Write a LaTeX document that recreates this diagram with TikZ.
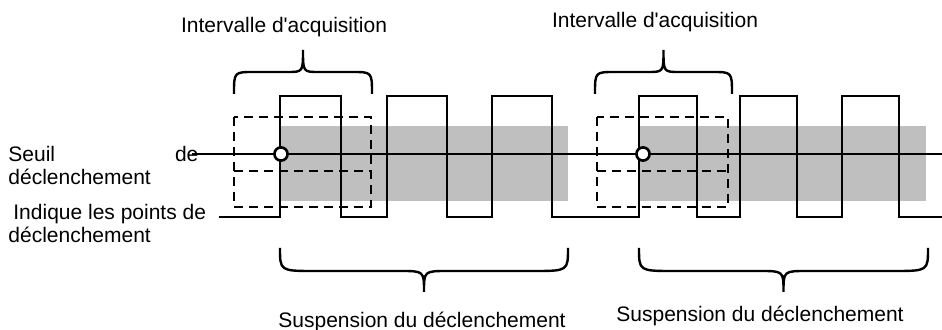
\documentclass[tikz,border=0pt]{standalone}
\usepackage{fontspec}
\setmainfont{Liberation Sans}
\tikzstyle{signal}=[line width=1.3pt]
\tikzstyle{fenetre}=[line width=1.3pt,dash pattern=on 4.5pt off 3pt]
\tikzstyle{zone}=[fill=black!25]
\tikzstyle{accolade}=[line width=1.2pt]
\tikzstyle{trigpoint}=[circle,draw,line width=1.3pt,fill=white,minimum size=6.6pt,inner sep=0pt]
\tikzstyle{texte}=[font={\fontsize{10.5}{11.5}\selectfont},inner sep=0pt]

\begin{document}
\begin{tikzpicture}[x=0.5pt,y=-0.5pt]
    \useasboundingbox (0,0) rectangle (942,330);
    \fill[zone] (280,126) rectangle (568,201);
    \fill[zone] (639,126) rectangle (926,201);

    \draw[signal] (192,154) -- (942,154);
    \draw[signal] (219,217)
        \foreach \a/\b in {280/341,387/447,492/552,639/697,740/797,842/899} { -| (\a,96) -| (\b,217) }
        -- (942,217);

    \foreach \xa/\xb in {234/371,597/728} {
        \draw[fenetre] (\xa,117) rectangle (\xb,207);
        \draw[fenetre] (\xa,171) -- (\xb,171);
    }

    \node[trigpoint] (p1) at (281,154) {};
    \node[trigpoint] (p2) at (643,154) {};

    \foreach \xa/\xb/\ye/\ym/\yt/\we/\wt in {234/372/94/72/50/20/16,595/732/94/72/50/20/16,280/568/248/271/292/35/24,639/928/248/271/292/35/24}
    \draw[accolade] (\xa,\ye) .. controls (\xa,\ym) .. ({\xa+\we},\ym) -- ({(\xa+\xb)/2-\wt},\ym)
        .. controls ({(\xa+\xb)/2},\ym) .. ({(\xa+\xb)/2},\yt)
        .. controls ({(\xa+\xb)/2},\ym) .. ({(\xa+\xb)/2+\wt},\ym) -- ({\xb-\we},\ym)
        .. controls (\xb,\ym) .. (\xb,\ye);

    \node[texte,anchor=base] (acq1) at (284,33) {Intervalle d\textquotesingle acquisition};
    \node[texte,anchor=base] (acq2) at (655,28) {Intervalle d\textquotesingle acquisition};
    \node[texte,anchor=base] (susp1) at (422,328) {Suspension du déclenchement};
    \node[texte,anchor=base] (susp2) at (760,322) {Suspension du déclenchement};
    \node[texte,anchor=north west,text width=95pt,align=left] (seuil) at (8,146) {Seuil \hfill de\\déclenchement};
    \node[texte,anchor=north west,align=left] (indique) at (8,204) {\hspace*{2.5pt}Indique les points de\\déclenchement};
\end{tikzpicture}
\end{document}
